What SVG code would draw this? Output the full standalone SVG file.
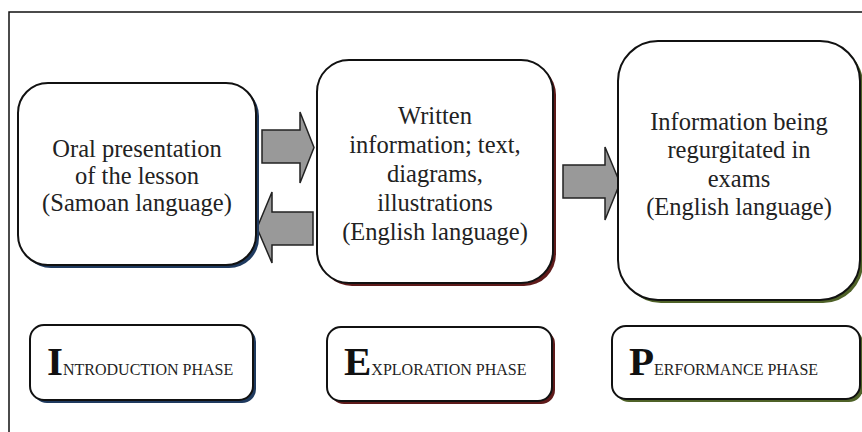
<svg xmlns="http://www.w3.org/2000/svg" width="862" height="432" viewBox="0 0 862 432">
<style>
.box{fill:#fff;stroke:#111;stroke-width:2}
.t{font-family:"Liberation Serif","Times New Roman",serif;font-size:24.5px;fill:#222;text-anchor:middle}
.big{font-family:"Liberation Serif","Times New Roman",serif;font-size:41px;font-weight:bold;fill:#111}
.sc{font-family:"Liberation Serif","Times New Roman",serif;font-size:16px;fill:#222}
.arr{fill:#999;stroke:#222;stroke-width:1.5;stroke-linejoin:miter}
</style>
<rect width="862" height="432" fill="#fff"/>
<rect x="9" y="12" width="880" height="440" fill="none" stroke="#111" stroke-width="1.5"/>

<g id="connectors">
<polygon class="arr" points="262,130 300,130 300,112 314,147.5 300,183 300,163 262,163"/>
<polygon class="arr" points="313,212 272,212 272,192 257,228 272,263 272,245 313,245"/>
<polygon class="arr" points="563,165 605,165 605,147 620,183 605,220 605,198 563,198"/>
</g>

<g id="oral">
<rect x="21" y="86" width="238" height="182" rx="30" fill="#1f3a5f"/>
<rect class="box" x="18" y="83" width="238" height="182" rx="30"/>
<text class="t" x="137" y="157">Oral presentation</text>
<text class="t" x="137" y="184">of the lesson</text>
<text class="t" x="137" y="211">(Samoan language)</text>
</g>

<g id="written">
<rect x="320" y="63" width="236" height="223" rx="32" fill="#5e1a1a"/>
<rect class="box" x="317" y="60" width="236" height="223" rx="32"/>
<text class="t" x="435" y="124">Written</text>
<text class="t" x="435" y="153">information; text,</text>
<text class="t" x="435" y="182">diagrams,</text>
<text class="t" x="435" y="211">illustrations</text>
<text class="t" x="435" y="240">(English language)</text>
</g>

<g id="exams">
<rect x="621" y="44" width="242" height="259" rx="40" fill="#4f6228"/>
<rect class="box" x="618" y="41" width="242" height="259" rx="40"/>
<text class="t" x="739" y="130">Information being</text>
<text class="t" x="739" y="158">regurgitated in</text>
<text class="t" x="739" y="187">exams</text>
<text class="t" x="739" y="215">(English language)</text>
</g>

<g id="intro">
<rect x="33" y="328" width="223" height="75" rx="14" fill="#1f3a5f"/>
<rect class="box" x="30" y="325" width="223" height="75" rx="14"/>
<text x="47" y="375"><tspan class="big">I</tspan><tspan class="sc">NTRODUCTION PHASE</tspan></text>
</g>

<g id="explore">
<rect x="330" y="330" width="225" height="74" rx="14" fill="#5e1a1a"/>
<rect class="box" x="327" y="327" width="225" height="74" rx="14"/>
<text x="344" y="375"><tspan class="big">E</tspan><tspan class="sc">XPLORATION PHASE</tspan></text>
</g>

<g id="perform">
<rect x="615" y="329" width="248" height="73" rx="14" fill="#4f6228"/>
<rect class="box" x="612" y="326" width="248" height="73" rx="14"/>
<text x="629" y="375"><tspan class="big">P</tspan><tspan class="sc">ERFORMANCE PHASE</tspan></text>
</g>
</svg>
